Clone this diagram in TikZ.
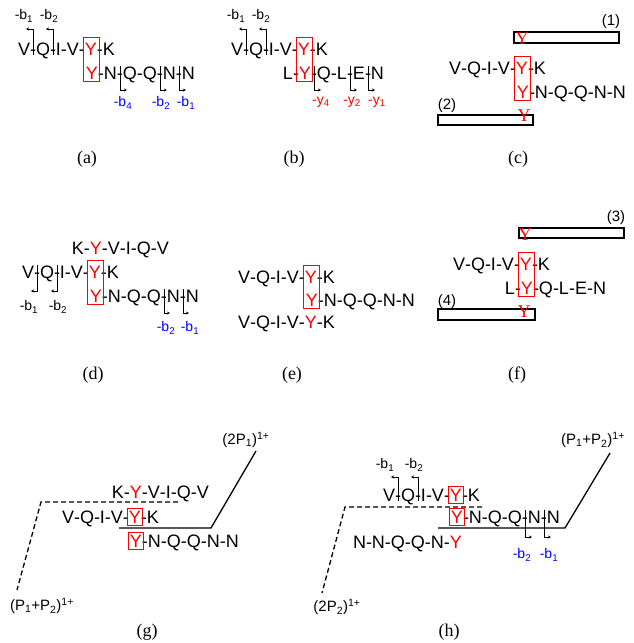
\documentclass[tikz,border=0pt]{standalone}
\usepackage{fontspec}
\setmainfont{Liberation Sans}
\newfontfamily\capfont{Liberation Serif}
\usetikzlibrary{calc,arrows.meta}
\newcommand\RY{\textcolor{red}{Y}}
\tikzset{
  res/.style={inner sep=0pt, outer sep=0pt, anchor=base west, font=\fontsize{18}{20}\selectfont},
  lab/.style={inner sep=0pt, font=\fontsize{14}{16}\selectfont},
  blab/.style={lab, text=blue},
  rlab/.style={lab, text=red},
  ion/.style={inner sep=0pt, font=\fontsize{15}{17}\selectfont},
  captxt/.style={inner sep=0pt, font=\capfont\fontsize{18}{20}\selectfont},
  sery/.style={inner sep=0pt, text=red, font=\capfont\fontsize{18}{20}\selectfont},
  yboxs/.style={draw=red, line width=1pt},
  frag/.style={line width=0.7pt, -{Stealth[length=3pt,width=3pt]}},
  bar/.style={draw, line width=1.2pt},
  pline/.style={line width=1.3pt},
  dline/.style={line width=1.3pt, dash pattern=on 5pt off 3pt}
}
\newcommand\pepchain[3]{%
  \node[res] (#1x0) at #2 {};%
  \foreach \tok [count=\ci] in {#3} {%
    \pgfmathtruncatemacro\pj{\ci-1}%
    \node[res] (#1x\ci) at (#1x\pj.base east) {\tok};%
  }%
}
\newcommand\fragmark[4]{\draw[frag] (#1.center |- 0,#2) -- (#1.center |- 0,#3) -- ++(#4,0);}
\newcommand\ybox[2]{\draw[yboxs] ($(#1.north west)+(-1.5,-5)$) rectangle ($(#2.base east)+(1.5,2)$);}
\newcommand\ysingle[1]{\draw[yboxs] ($(#1.north west)+(-1.5,-2.5)$) rectangle ($(#1.base east)+(1.5,2.5)$);}
\begin{document}
\begin{tikzpicture}[x=1pt,y=-1pt]
\useasboundingbox (0,0) rectangle (633,643);
% ---------------- (a)
\pepchain{a1}{(17,55)}{V,-,Q,-,I,-,V,-,\RY,-,K}
\pepchain{a2}{($(a1x9.base west)+(0,24)$)}{\RY,-,N,-,Q,-,Q,-,N,-,N}
\ybox{a1x9}{a2x1}
\fragmark{a1x2}{55}{29}{-7}
\fragmark{a1x4}{55}{29}{-7}
\fragmark{a2x4}{66}{90}{7}
\fragmark{a2x8}{66}{90}{7}
\fragmark{a2x10}{66}{90}{7}
\node[lab] (la1) at (24,16) {-b\textsubscript{1}};
\node[lab] (la2) at (49,16) {-b\textsubscript{2}};
\node[blab] (la3) at (123,103) {-b\textsubscript{4}};
\node[blab] (la4) at (161,103) {-b\textsubscript{2}};
\node[blab] (la5) at (186,103) {-b\textsubscript{1}};
\node[captxt] (capa) at (87,159) {(a)};
% ---------------- (b)
\pepchain{b1}{(230,55)}{V,-,Q,-,I,-,V,-,\RY,-,K}
\pepchain{b2}{($(b1x9.base west)+(-16,24)$)}{L,-,\RY,-,Q,-,L,-,E,-,N}
\ybox{b1x9}{b2x3}
\fragmark{b1x2}{55}{29}{-7}
\fragmark{b1x4}{55}{29}{-7}
\fragmark{b2x4}{66}{90}{7}
\fragmark{b2x8}{66}{90}{7}
\fragmark{b2x10}{66}{90}{7}
\node[lab] (lb1) at (236,16) {-b\textsubscript{1}};
\node[lab] (lb2) at (261,16) {-b\textsubscript{2}};
\node[rlab] (lb3) at (321,102) {-y\textsubscript{4}};
\node[rlab] (lb4) at (352,102) {-y\textsubscript{2}};
\node[rlab] (lb5) at (377,102) {-y\textsubscript{1}};
\node[captxt] (capb) at (294,159) {(b)};
% ---------------- (c)
\pepchain{c1}{(448,74)}{V,-,Q,-,I,-,V,-,\RY,-,K}
\pepchain{c2}{($(c1x9.base west)+(0,24)$)}{\RY,-,N,-,Q,-,Q,-,N,-,N}
\ybox{c1x9}{c2x1}
\draw[bar] (514,32) rectangle (619,43);
\node[sery] (cy1) at (522,39) {Y};
\node[ion] (cn1) at (611,22) {(1)};
\draw[bar] (438,115) rectangle (533,125);
\node[sery] (cy2) at (524,116) {Y};
\node[ion] (cn2) at (447,106) {(2)};
\node[captxt] (capc) at (518,159) {(c)};
% ---------------- (d)
\pepchain{d1}{(21,278)}{V,-,Q,-,I,-,V,-,\RY,-,K}
\pepchain{d0}{($(d1x9.base west)+(-18,-24)$)}{K,-,\RY,-,V,-,I,-,Q,-,V}
\pepchain{d2}{($(d1x9.base west)+(0,24)$)}{\RY,-,N,-,Q,-,Q,-,N,-,N}
\ybox{d1x9}{d2x1}
\fragmark{d1x2}{265}{291}{-6}
\fragmark{d1x4}{265}{291}{-6}
\fragmark{d2x8}{289}{313}{6}
\fragmark{d2x10}{289}{313}{6}
\node[lab] (ld1) at (29,307) {-b\textsubscript{1}};
\node[lab] (ld2) at (58,307) {-b\textsubscript{2}};
\node[blab] (ld3) at (166,328) {-b\textsubscript{2}};
\node[blab] (ld4) at (190,328) {-b\textsubscript{1}};
\node[captxt] (capd) at (93,375) {(d)};
% ---------------- (e)
\pepchain{e1}{(237,283)}{V,-,Q,-,I,-,V,-,\RY,-,K}
\pepchain{e2}{($(e1x9.base west)+(0,23)$)}{\RY,-,N,-,Q,-,Q,-,N,-,N}
\pepchain{e3}{(237,328)}{V,-,Q,-,I,-,V,-,\RY,-,K}
\ybox{e1x9}{e2x1}
\node[captxt] (cape) at (292,375) {(e)};
% ---------------- (f)
\pepchain{f1}{(452,270)}{V,-,Q,-,I,-,V,-,\RY,-,K}
\pepchain{f2}{($(f1x9.base west)+(-16,24)$)}{L,-,\RY,-,Q,-,L,-,E,-,N}
\ybox{f1x9}{f2x3}
\draw[bar] (519,228) rectangle (624,238);
\node[sery] (fy3) at (525,235) {Y};
\node[ion] (fn3) at (616,218) {(3)};
\draw[bar] (438,309) rectangle (535,320);
\node[sery] (fy4) at (524,312) {Y};
\node[ion] (fn4) at (447,302) {(4)};
\node[captxt] (capf) at (517,375) {(f)};
% ---------------- (g)
\pepchain{g1}{(61,523)}{V,-,Q,-,I,-,V,-,\RY,-,K}
\pepchain{g0}{($(g1x9.base west)+(-18,-25)$)}{K,-,\RY,-,V,-,I,-,Q,-,V}
\pepchain{g2}{($(g1x9.base west)+(0,24)$)}{\RY,-,N,-,Q,-,Q,-,N,-,N}
\ysingle{g1x9}
\ysingle{g2x1}
\node[ion] (gi1) at (246,440) {(2P\textsubscript{1})\textsuperscript{1+}};
\node[ion] (gi2) at (42,606) {(P\textsubscript{1}+P\textsubscript{2})\textsuperscript{1+}};
\coordinate (gs1) at (256,451);
\coordinate (gs2) at (211,528);
\coordinate (gs3) at (119,528);
\draw[pline] (gs1) -- (gs2) -- (gs3);
\coordinate (gd1) at (178,502);
\coordinate (gd2) at (41,502);
\coordinate (gd3) at (17,590);
\draw[dline] (gd1) -- (gd2) -- (gd3);
\node[captxt] (capg) at (147,632) {(g)};
% ---------------- (h)
\pepchain{h1}{(382,501)}{V,-,Q,-,I,-,V,-,\RY,-,K}
\pepchain{h2}{($(h1x9.base west)+(0,22)$)}{\RY,-,N,-,Q,-,Q,-,N,-,N}
\pepchain{h3}{(352,548)}{N,-,N,-,Q,-,Q,-,N,-,\RY}
\ysingle{h1x9}
\ysingle{h2x1}
\fragmark{h1x2}{501}{477}{-7}
\fragmark{h1x4}{501}{477}{-7}
\fragmark{h2x8}{510}{537}{7}
\fragmark{h2x10}{510}{537}{7}
\node[lab] (lh1) at (385,465) {-b\textsubscript{1}};
\node[lab] (lh2) at (414,465) {-b\textsubscript{2}};
\node[blab] (lh3) at (522,555) {-b\textsubscript{2}};
\node[blab] (lh4) at (549,555) {-b\textsubscript{1}};
\node[ion] (hi1) at (593,440) {(P\textsubscript{1}+P\textsubscript{2})\textsuperscript{1+}};
\node[ion] (hi2) at (337,607) {(2P\textsubscript{2})\textsuperscript{1+}};
\coordinate (hs1) at (610,453);
\coordinate (hs2) at (565,528);
\coordinate (hs3) at (438,528);
\draw[pline] (hs1) -- (hs2) -- (hs3);
\coordinate (hd1) at (482,507);
\coordinate (hd2) at (345,507);
\coordinate (hd3) at (322,593);
\draw[dline] (hd1) -- (hd2) -- (hd3);
\node[captxt] (caph) at (449,632) {(h)};
\end{tikzpicture}
\end{document}
